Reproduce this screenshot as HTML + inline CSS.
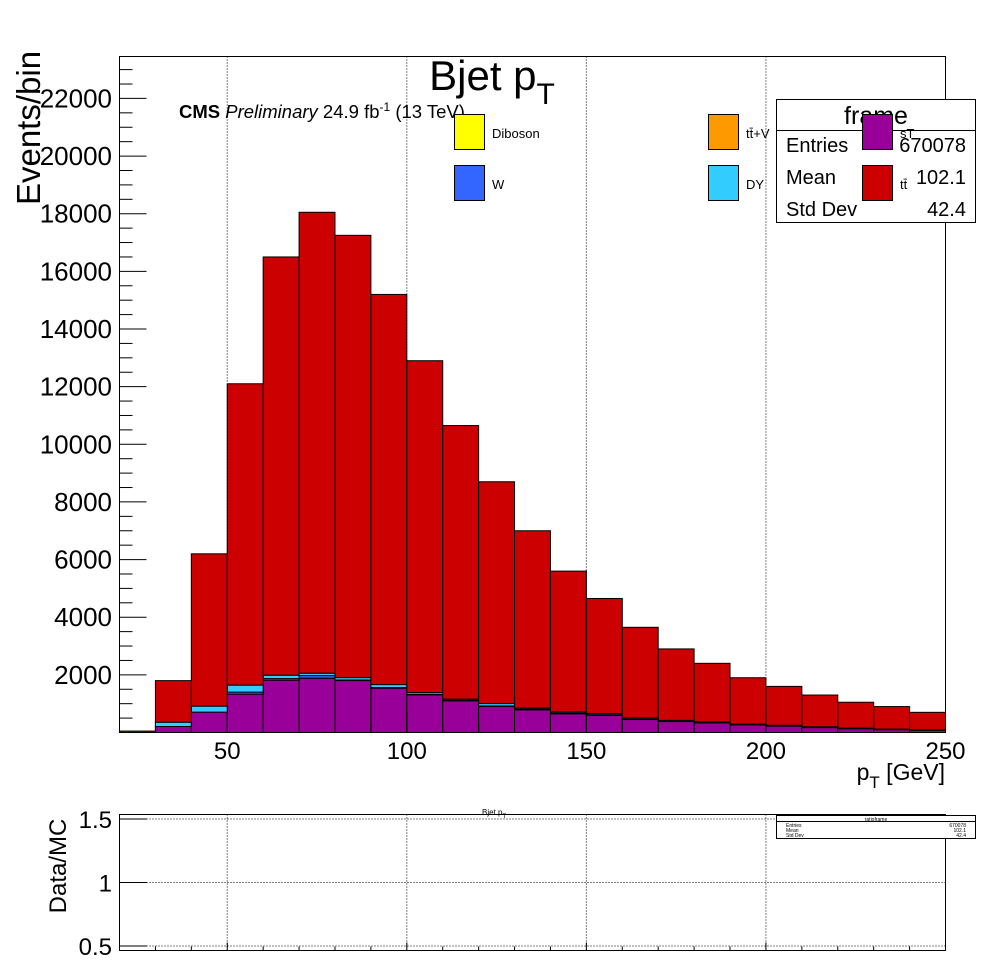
<!DOCTYPE html>
<html><head><meta charset="utf-8"><style>
body{margin:0;background:#fff}
svg{display:block;font-family:"Liberation Sans",Arial,sans-serif}
</style></head><body>
<svg id="c" width="996" height="972" viewBox="0 0 996 972">
<g id="grid"></g>
<g id="bars"></g>
<g id="axes"></g>
<text x="492" y="90" font-size="42" text-anchor="middle">Bjet p<tspan font-size="30" dy="14">T</tspan></text>
<text transform="translate(40,128) rotate(-90)" font-size="33" text-anchor="middle">Events/bin</text>
<text x="945" y="780" font-size="23" text-anchor="end">p<tspan font-size="17" dy="8">T</tspan><tspan dy="-8"> [GeV]</tspan></text>
<text x="179" y="118" font-size="18.5"><tspan font-weight="bold">CMS</tspan> <tspan font-style="italic">Preliminary</tspan> 24.9 fb<tspan font-size="12" dy="-7">-1</tspan><tspan dy="7"> (13 TeV)</tspan></text>
<g>
<rect x="776.5" y="99.5" width="199" height="123" fill="#fff" stroke="#000"/>
<line x1="776" y1="130.5" x2="976" y2="130.5" stroke="#000"/>
<text x="876" y="124" font-size="25" text-anchor="middle">frame</text>
<text x="786" y="152" font-size="20">Entries</text><text x="966" y="152" font-size="20" text-anchor="end">670078</text>
<text x="786" y="184" font-size="20">Mean</text><text x="966" y="184" font-size="20" text-anchor="end">102.1</text>
<text x="786" y="216" font-size="20">Std Dev</text><text x="966" y="216" font-size="20" text-anchor="end">42.4</text>
</g>
<g>
<g><rect x="454.5" y="114.5" width="30" height="35" fill="#ffff00" stroke="#000"/><text x="492" y="138" font-size="13">Diboson</text></g>
<g><rect x="454.5" y="165.5" width="30" height="35" fill="#3366ff" stroke="#000"/><text x="492" y="189" font-size="13">W</text></g>
<g><rect x="708.5" y="114.5" width="30" height="35" fill="#ff9900" stroke="#000"/><text x="746" y="138" font-size="13">tt̄+V</text></g>
<g><rect x="708.5" y="165.5" width="30" height="35" fill="#33ccff" stroke="#000"/><text x="746" y="189" font-size="13">DY</text></g>
<g><rect x="862.5" y="114.5" width="30" height="35" fill="#990099" stroke="#000"/><text x="900" y="138" font-size="13">sT</text></g>
<g><rect x="862.5" y="165.5" width="30" height="35" fill="#cc0000" stroke="#000"/><text x="900" y="189" font-size="13">tt̄</text></g>
</g>
<text x="482" y="815" font-size="8">Bjet p<tspan font-size="6" dy="3">T</tspan></text>
<g>
<rect x="776.5" y="815.5" width="199" height="23" fill="#fff" stroke="#000"/>
<line x1="776" y1="821.5" x2="976" y2="821.5" stroke="#000"/>
<text x="876" y="821" font-size="5" text-anchor="middle">ratioframe</text>
<text x="786" y="827" font-size="5">Entries</text><text x="966" y="827" font-size="5" text-anchor="end">670078</text>
<text x="786" y="832" font-size="5">Mean</text><text x="966" y="832" font-size="5" text-anchor="end">102.1</text>
<text x="786" y="837" font-size="5">Std Dev</text><text x="966" y="837" font-size="5" text-anchor="end">42.4</text>
</g>
<text transform="translate(66,866) rotate(-90)" font-size="24" text-anchor="middle">Data/MC</text>
</svg>
<script>
const binEdgesLow = [20,30,40,50,60,70,80,90,100,110,120,130,140,150,160,170,180,190,200,210,220,230,240];
const sT = [0,208,707,1331,1816,1885,1802,1539,1307,1099,901,787,650,600,450,380,330,260,220,170,130,100,70];
const wJets = [0,0,0,70,55,90,20,20,20,20,20,20,20,20,10,10,10,10,10,10,5,5,5];
const dy = [0,150,208,243,118,83,83,104,60,40,83,40,40,40,40,30,30,20,20,20,15,15,15];
const ttbar = [50,1442,5285,10456,14511,15992,15345,13537,11513,9491,7696,6153,4890,3990,3150,2480,2030,1610,1350,1100,900,780,610];
const xTicks = [50,100,150,200,250];
const yTicks = [2000,4000,6000,8000,10000,12000,14000,16000,18000,20000,22000];
const ratioTicks = [0.5,1,1.5];
const binWidth = 10;

const NS='http://www.w3.org/2000/svg';
const L=119.5,R=945.5,T=56.5,B=732.5;
const xmin=20,xmax=250,ymax=23455;
const X=v=>L+(v-xmin)/(xmax-xmin)*(R-L);
const Y=v=>B-v/ymax*(B-T);
const RT=814.5,RB=950.5;
const RY=v=>946-(v-0.5)/1*(946-819);
function mk(tag,attrs,parent){const e=document.createElementNS(NS,tag);for(const k in attrs)e.setAttribute(k,attrs[k]);parent.appendChild(e);return e;}
const grid=document.getElementById('grid'),bars=document.getElementById('bars'),axes=document.getElementById('axes');
xTicks.forEach(t=>{if(t<xmax){
 const g1=mk('line',{x1:X(t),x2:X(t),y1:T,y2:B,stroke:'#000','stroke-dasharray':'1,2'},grid);
 
 
 const g2=mk('line',{x1:X(t),x2:X(t),y1:RT,y2:RB,stroke:'#000','stroke-dasharray':'1,2'},grid);
 
 
}});
ratioTicks.forEach(t=>{
 const g=mk('line',{x1:L,x2:R,y1:RY(t),y2:RY(t),stroke:'#000','stroke-dasharray':'1,2'},grid);
 
 
});
const series=[['st',sT,'#990099'],['w',wJets,'#3366ff'],['dy',dy,'#33ccff'],['ttbar',ttbar,'#cc0000']];
const base=binEdgesLow.map(()=>0);
series.forEach(([name,vals,col])=>{
 binEdgesLow.forEach((lo,i)=>{
  const y0=base[i],y1=y0+vals[i];base[i]=y1;
  if(vals[i]<=0)return;
  const r=mk('rect',{x:X(lo),y:Y(y1),width:X(lo+binWidth)-X(lo),height:Y(y0)-Y(y1),fill:col,stroke:'#000','stroke-width':1},bars);
  
  
 });
});
const f1=mk('rect',{x:L,y:T,width:R-L,height:B-T,fill:'none',stroke:'#000'},axes);


const f2=mk('rect',{x:L,y:RT,width:R-L,height:RB-RT,fill:'none',stroke:'#000'},axes);


for(let v=500;v<ymax;v+=500){
 const maj=v%2000===0;
 mk('line',{x1:L,x2:L+(maj?27:13),y1:Y(v),y2:Y(v),stroke:'#000'},axes);
}
yTicks.forEach(t=>{
 const tx=mk('text',{x:112,y:Y(t)+9,'font-size':26,'text-anchor':'end'},axes);
 tx.textContent=t;
 
 
});
for(let v=xmin;v<=xmax;v+=10){
 const maj=v%50===0;
 mk('line',{x1:X(v),x2:X(v),y1:B,y2:B-(maj?20:10),stroke:'#000'},axes);
 mk('line',{x1:X(v),x2:X(v),y1:RB,y2:RB-(maj?8:4),stroke:'#000'},axes);
}
xTicks.forEach(t=>{
 const tx=mk('text',{x:X(t),y:759,'font-size':24,'text-anchor':'middle'},axes);
 tx.textContent=t;
 
 
});
ratioTicks.forEach(t=>{
 mk('line',{x1:L,x2:L+28,y1:RY(t),y2:RY(t),stroke:'#000'},axes);
 const tx=mk('text',{x:112,y:RY(t)+9,'font-size':24,'text-anchor':'end'},axes);
 tx.textContent=t;
 
 
});
</script>
</body></html>
